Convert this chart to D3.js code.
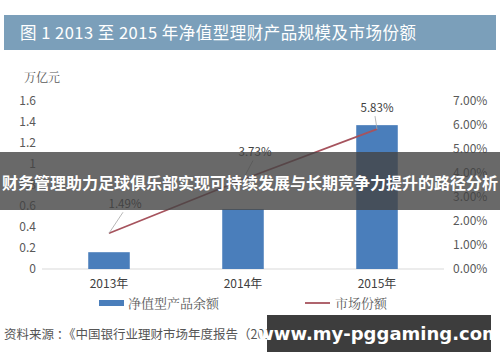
<!DOCTYPE html>
<html><head><meta charset="utf-8">
<script src="https://cdn.jsdelivr.net/npm/d3@7"></script>
<style>body{margin:0;background:#fff}svg{display:block}</style>
</head><body><svg id="c" width="500" height="362"></svg>
<script>
const categories = ["2013年","2014年","2015年"];
const balance = [0.16, 0.57, 1.37];          // 万亿元
const share = [1.49, 3.73, 5.83];            // %
const leftTicks = [0,0.2,0.4,0.6,0.8,1,1.2,1.4,1.6];
const rightTicks = [0,1,2,3,4,5,6,7];
const title = "图 1  2013 至 2015 年净值型理财产品规模及市场份额";
const legendLabels = ["净值型产品余额","市场份额"];
const source = "资料来源 ：《中国银行业理财市场年度报告（2015）》";
const banner = "财务管理助力足球俱乐部实现可持续发展与长期竞争力提升的路径分析";
const watermark = "www.my-pggaming.com";

const svg = d3.select("#c");
const font = "'Noto Sans CJK SC','Noto Sans',sans-serif";
const serif = "'Noto Serif CJK SC','Noto Sans CJK SC',serif";
const tickColor = "#595959";

// title bar
svg.append("rect").attr("x",4).attr("y",15).attr("width",492).attr("height",35).attr("fill","#7b9fba");
svg.append("text").attr("x",20).attr("y",39).attr("fill","#fff").attr("font-family",font)
  .attr("font-size",16.5).attr("textLength",396).attr("lengthAdjust","spacing").text(title);

const x = d3.scaleBand().domain(categories).range([42,444]).paddingInner(0.69).paddingOuter(0.345);
const yL = d3.scaleLinear().domain([0,1.6]).range([269,101]);
const yR = d3.scaleLinear().domain([0,7]).range([269,101]);

// left axis
const la = svg.append("g").attr("transform","translate(36,0)")
  .call(d3.axisLeft(yL).tickValues(leftTicks).tickSize(0).tickPadding(0).tickFormat(d=>d3.format("")(d)));
la.select(".domain").remove();
la.selectAll("text").attr("fill",tickColor).attr("font-size",12).attr("font-family",font);

svg.append("text").attr("x",24).attr("y",82).attr("fill",tickColor).attr("font-size",12)
  .attr("font-family",serif).text("万亿元");

// right axis
const ra = svg.append("g").attr("transform","translate(453,0)")
  .call(d3.axisRight(yR).tickValues(rightTicks).tickSize(0).tickPadding(0).tickFormat(d=>d3.format(".2f")(d)+"%"));
ra.select(".domain").remove();
ra.selectAll("text").attr("fill",tickColor).attr("font-size",12).attr("font-family",font);

// baseline
svg.append("line").attr("x1",42).attr("x2",444).attr("y1",yL(0)).attr("y2",yL(0))
  .attr("stroke","#d9d9d9").attr("stroke-width",1);

// bars
svg.selectAll("rect.bar").data(balance).enter().append("rect").attr("class","bar")
  .attr("x",(d,i)=>x(categories[i])).attr("width",x.bandwidth())
  .attr("y",d=>yL(d)).attr("height",d=>yL(0)-yL(d)).attr("fill","#4a7ebb");

// x labels
svg.selectAll("text.xl").data(categories).enter().append("text").attr("class","xl")
  .attr("x",d=>x(d)+x.bandwidth()/2).attr("y",288).attr("text-anchor","middle")
  .attr("fill","#404040").attr("font-size",12).attr("font-family",font).text(d=>d);

// line
const cx = i => x(categories[i])+x.bandwidth()/2;
svg.append("path").datum(share)
  .attr("d",d3.line().x((d,i)=>cx(i)).y(d=>yR(d)))
  .attr("fill","none").attr("stroke","#a6535d").attr("stroke-width",1.8);

// data labels with leaders
const lblOff = [[16,-25],[12,-23],[0,-17]];
share.forEach((v,i)=>{
  const px=cx(i), py=yR(v);
  const lx=px+lblOff[i][0], ly=py+lblOff[i][1];
  svg.append("line").attr("x1",px).attr("y1",py).attr("x2",lx-2).attr("y2",ly+4)
    .attr("stroke","#a6a6a6").attr("stroke-width",0.8);
  svg.append("text").attr("x",lx).attr("y",ly).attr("text-anchor","middle")
    .attr("fill","#404040").attr("font-size",11.5).attr("font-family",font).text(d3.format(".2f")(v)+"%");
});

// legend
svg.append("rect").attr("x",99).attr("y",300).attr("width",25).attr("height",6).attr("fill","#4a7ebb");
svg.append("text").attr("x",128).attr("y",308).attr("fill",tickColor).attr("font-size",13)
  .attr("font-family",serif).text(legendLabels[0]);
svg.append("line").attr("x1",305).attr("x2",330).attr("y1",303).attr("y2",303)
  .attr("stroke","#a6535d").attr("stroke-width",1.8);
svg.append("text").attr("x",335).attr("y",308).attr("fill",tickColor).attr("font-size",13)
  .attr("font-family",serif).text(legendLabels[1]);

// source
svg.append("text").attr("x",4).attr("y",339).attr("fill","#555").attr("font-size",12.5)
  .attr("font-family",font).text(source);

// banner overlay
svg.append("rect").attr("x",0).attr("y",152).attr("width",500).attr("height",58)
  .attr("fill","#444").attr("opacity",0.8);
svg.append("text").attr("x",250).attr("y",189).attr("text-anchor","middle").attr("fill","#fff")
  .attr("font-weight","bold").attr("font-size",16).attr("font-family",font).text(banner);

// watermark
svg.append("rect").attr("x",267).attr("y",315).attr("width",224).attr("height",37).attr("fill","#3d3d3d");
svg.append("text").attr("x",379).attr("y",340).attr("text-anchor","middle").attr("fill","#fff")
  .attr("font-weight","bold").attr("font-size",18).attr("font-family","'DejaVu Sans',sans-serif").text(watermark);
</script></body></html>
